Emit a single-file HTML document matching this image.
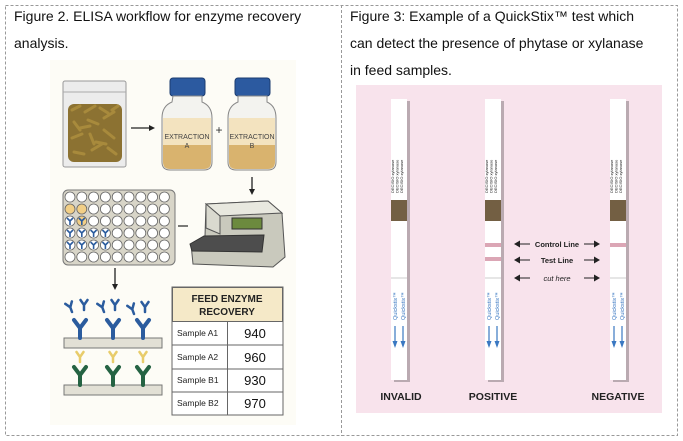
<!DOCTYPE html>
<html><head><meta charset="utf-8"><style>
html,body{margin:0;padding:0;background:#fff;width:683px;height:441px;overflow:hidden}
svg text{font-family:"Liberation Sans",sans-serif}
</style></head><body>
<svg width="683" height="441" viewBox="0 0 683 441" xmlns="http://www.w3.org/2000/svg">
<defs>
<g id="ab"><path d="M0 0 V-10 M0 -10 L-6 -18 M0 -10 L6 -18" stroke-width="4" fill="none" stroke-linecap="round"/></g>
<g id="abs"><path d="M0 0 V-5 M0 -5 L-3.5 -10 M0 -5 L3.5 -10" stroke-width="2.5" fill="none" stroke-linecap="round"/></g>
</defs>
<rect x="5.5" y="5.5" width="672" height="430" fill="none" stroke="#999" stroke-dasharray="3,2"/>
<line x1="341.5" y1="5" x2="341.5" y2="436" stroke="#999" stroke-dasharray="3,2"/>
<text x="14" y="21" font-size="14" fill="#111">Figure 2.  ELISA workflow for enzyme recovery</text>
<text x="14" y="48" font-size="14" fill="#111">analysis.</text>
<text x="350" y="21" font-size="14" fill="#111">Figure 3: Example of a QuickStix™ test which</text>
<text x="350" y="48" font-size="14" fill="#111">can detect the presence of phytase or xylanase</text>
<text x="350" y="75" font-size="14" fill="#111">in feed samples.</text>

<!-- left figure -->
<rect x="50" y="60" width="246" height="365" fill="#fdfcf6"/>
<rect x="63" y="81" width="63" height="86" rx="2" fill="#ececec" stroke="#999"/>
<line x1="63" y1="92" x2="126" y2="92" stroke="#aaa"/>
<rect x="68" y="104" width="54" height="58" rx="6" fill="#8c7232"/>
<g stroke="#a88a3c" stroke-width="3" stroke-linecap="round">
<path d="M72 110 l8 -4 M85 112 l10 -6 M100 108 l8 5 M112 110 l6 -4 M74 122 l6 8 M88 120 l10 4 M104 118 l10 -6 M72 138 l10 -4 M90 134 l4 10 M104 130 l10 8 M74 152 l10 2 M92 150 l10 -6 M108 148 l8 6 M80 128 l10 -2 M96 142 l10 2"/>
</g>
<line x1="131" y1="128" x2="150" y2="128" stroke="#222" stroke-width="1.3"/><path d="M155 128 l-6 -3 v6z" fill="#222"/>
<g>
<rect x="170" y="78" width="35" height="18" rx="3" fill="#2c5aa0" stroke="#1b3c70"/>
<path d="M173 96 h29 v6 q10 4 10 16 v44 q0 8 -8 8 h-34 q-8 0 -8 -8 v-44 q0 -12 10 -16z" fill="#f3f3ef" stroke="#888"/>
<rect x="163" y="118" width="48" height="27" fill="#f3e3bf"/>
<path d="M163 145 h48 v17 q0 7 -7 7 h-34 q-7 0 -7 -7z" fill="#d9b36e"/>
<text x="187" y="139" font-size="7" text-anchor="middle" fill="#444">EXTRACTION</text>
<text x="187" y="148" font-size="7" text-anchor="middle" fill="#444">A</text>
</g>
<text x="219" y="134" font-size="12" text-anchor="middle" fill="#333">+</text>
<g>
<rect x="235" y="78" width="35" height="18" rx="3" fill="#2c5aa0" stroke="#1b3c70"/>
<path d="M238 96 h29 v6 q9 4 9 16 v44 q0 8 -8 8 h-32 q-8 0 -8 -8 v-44 q0 -12 10 -16z" fill="#f3f3ef" stroke="#888"/>
<rect x="229" y="118" width="46" height="27" fill="#f3e3bf"/>
<path d="M229 145 h46 v17 q0 7 -7 7 h-32 q-7 0 -7 -7z" fill="#d9b36e"/>
<text x="252" y="139" font-size="7" text-anchor="middle" fill="#444">EXTRACTION</text>
<text x="252" y="148" font-size="7" text-anchor="middle" fill="#444">B</text>
</g>
<line x1="252" y1="177" x2="252" y2="190" stroke="#222" stroke-width="1.3"/><path d="M252 195 l-3 -6 h6z" fill="#222"/>
<rect x="63" y="190" width="112" height="75" rx="5" fill="#d8d5c8" stroke="#777"/>
<g stroke="#666" stroke-width="0.8" fill="#fff" id="wells"></g>
<line x1="178" y1="226" x2="188" y2="226" stroke="#333" stroke-width="1.3"/>
<!-- reader -->
<path d="M206 204 l62 -3 l14 12 l3 44 l-12 10 l-80 -3 l-2 -20 l14 -8 z" fill="#c9c9bd" stroke="#555"/>
<path d="M206 204 l62 -3 l14 12 l-62 3 z" fill="#e8e8df" stroke="#555"/>
<path d="M206 204 l14 12 v18 l-14 -6z" fill="#d9d9cf" stroke="#555"/>
<rect x="232" y="218" width="30" height="11" fill="#6c8a3e" stroke="#333"/>
<path d="M190 244 l14 -8 l60 -1 l-2 17 l-70 -1z" fill="#4d4d4d" stroke="#333"/>
<line x1="115" y1="268" x2="115" y2="284" stroke="#222" stroke-width="1.3"/><path d="M115 290 l-3 -6 h6z" fill="#222"/>
<rect x="64" y="338" width="98" height="10" fill="#e2e0d5" stroke="#777"/>
<rect x="64" y="385" width="98" height="10" fill="#e2e0d5" stroke="#777"/>
<g stroke="#2b5c9e"><use href="#ab" x="80" y="338"/><use href="#ab" x="113" y="338"/><use href="#ab" x="143" y="338"/>
<use href="#abs" x="72" y="312" transform="rotate(-20 72 312)"/><use href="#abs" x="84" y="310"/>
<use href="#abs" x="104" y="312" transform="rotate(-20 104 312)"/><use href="#abs" x="115" y="310"/>
<use href="#abs" x="134" y="314" transform="rotate(-20 134 314)"/><use href="#abs" x="145" y="312"/></g>
<g stroke="#256343"><use href="#ab" x="80" y="385"/><use href="#ab" x="113" y="385"/><use href="#ab" x="143" y="385"/></g>
<g stroke="#e8cc6a"><use href="#abs" x="80" y="362"/><use href="#abs" x="113" y="362"/><use href="#abs" x="143" y="362"/></g>
<rect x="172" y="287" width="111" height="128" fill="#fff" stroke="#666"/>
<rect x="172.5" y="287.5" width="110" height="34" fill="#f5e9c8" stroke="#666"/>
<text x="227" y="302" font-size="10" font-weight="bold" text-anchor="middle" fill="#222">FEED ENZYME</text>
<text x="227" y="315" font-size="10" font-weight="bold" text-anchor="middle" fill="#222">RECOVERY</text>
<g stroke="#666"><line x1="172" y1="345" x2="283" y2="345"/><line x1="172" y1="369" x2="283" y2="369"/><line x1="172" y1="392" x2="283" y2="392"/><line x1="227.5" y1="321" x2="227.5" y2="415"/></g>
<g font-size="8.5" fill="#222"><text x="177" y="336">Sample A1</text><text x="177" y="360">Sample A2</text><text x="177" y="383">Sample B1</text><text x="177" y="406">Sample B2</text></g>
<g font-size="13" fill="#111" text-anchor="middle"><text x="255" y="338">940</text><text x="255" y="362">960</text><text x="255" y="385">930</text><text x="255" y="408">970</text></g>

<rect x="356" y="85" width="306" height="328" fill="#f8e3ec"/>
<g id="strips"></g>
<g font-size="7.5" font-weight="bold" fill="#222" stroke-width="1">
<path d="M518 244 h12 M584 244 h12 M518 260 h12 M584 260 h12 M518 278 h12 M584 278 h12" stroke="#222"/>
<path d="M514 244 l6 -3.5 v7z M600 244 l-6 -3.5 v7z M514 260 l6 -3.5 v7z M600 260 l-6 -3.5 v7z M514 278 l6 -3.5 v7z M600 278 l-6 -3.5 v7z" fill="#222"/>
<text x="557" y="247" text-anchor="middle">Control Line</text>
<text x="557" y="263" text-anchor="middle">Test Line</text>
<text x="557" y="281" text-anchor="middle" font-weight="normal" font-style="italic">cut here</text>
</g>
<g font-size="10.5" font-weight="bold" fill="#222" text-anchor="middle">
<text x="401" y="400">INVALID</text><text x="493" y="400">POSITIVE</text><text x="618" y="400">NEGATIVE</text>
</g>
</svg>
<script>
var ns="http://www.w3.org/2000/svg";
function el(p,t,a){var e=document.createElementNS(ns,t);for(var k in a)e.setAttribute(k,a[k]);p.appendChild(e);return e;}
var w=document.getElementById('wells');
for(var r=0;r<6;r++)for(var c=0;c<9;c++){
 var x=70+c*11.8,y=197+r*12;
 var f='#fff';if(r==1&&c<2)f='#f2cf86';if(r==2&&c==1)f='#f2cf86';
 el(w,'circle',{cx:x,cy:y,r:5,fill:f});
 if((r==2&&c<2)||((r==3||r==4)&&c<4)){el(w,'path',{d:'M'+x+' '+(y+4)+'v-4l-3 -3M'+x+' '+y+'l3 -3',stroke:'#2b5c9e','stroke-width':1.6,fill:'none'});}
}
var s=document.getElementById('strips');
[[391,false,false],[485,true,true],[610,true,false]].forEach(function(a){
 var x=a[0];
 el(s,'rect',{x:x+3,y:101,width:16,height:281,fill:'#000',opacity:0.25});
 el(s,'rect',{x:x,y:99,width:16,height:281,fill:'#fff'});
 el(s,'rect',{x:x,y:200,width:16,height:21,fill:'#735f43'});
 for(var i=0;i<3;i++){var t=el(s,'text',{x:0,y:0,'font-size':'4','fill':'#222','transform':'translate('+(x+3+i*4.5)+',193) rotate(-90)'});t.textContent='DECISIO xylanase';}
 el(s,'line',{x1:x,y1:278,x2:x+16,y2:278,stroke:'#ccc'});
 if(a[1])el(s,'rect',{x:x,y:243,width:16,height:4,fill:'#dba6b5'});
 if(a[2])el(s,'rect',{x:x,y:257,width:16,height:4,fill:'#dba6b5'});
 for(var j=0;j<2;j++){var cx=x+4+j*8;
  var t2=el(s,'text',{x:0,y:0,'font-size':'5.5','fill':'#3a78c2','transform':'translate('+(cx+2)+',320) rotate(-90)'});t2.textContent='Quickstix™';
  el(s,'line',{x1:cx,y1:326,x2:cx,y2:343,stroke:'#3a78c2','stroke-width':1.2});
  el(s,'path',{d:'M'+(cx-2.5)+' 341 L'+cx+' 348 L'+(cx+2.5)+' 341z',fill:'#3a78c2'});}
});
</script>
</body></html>
